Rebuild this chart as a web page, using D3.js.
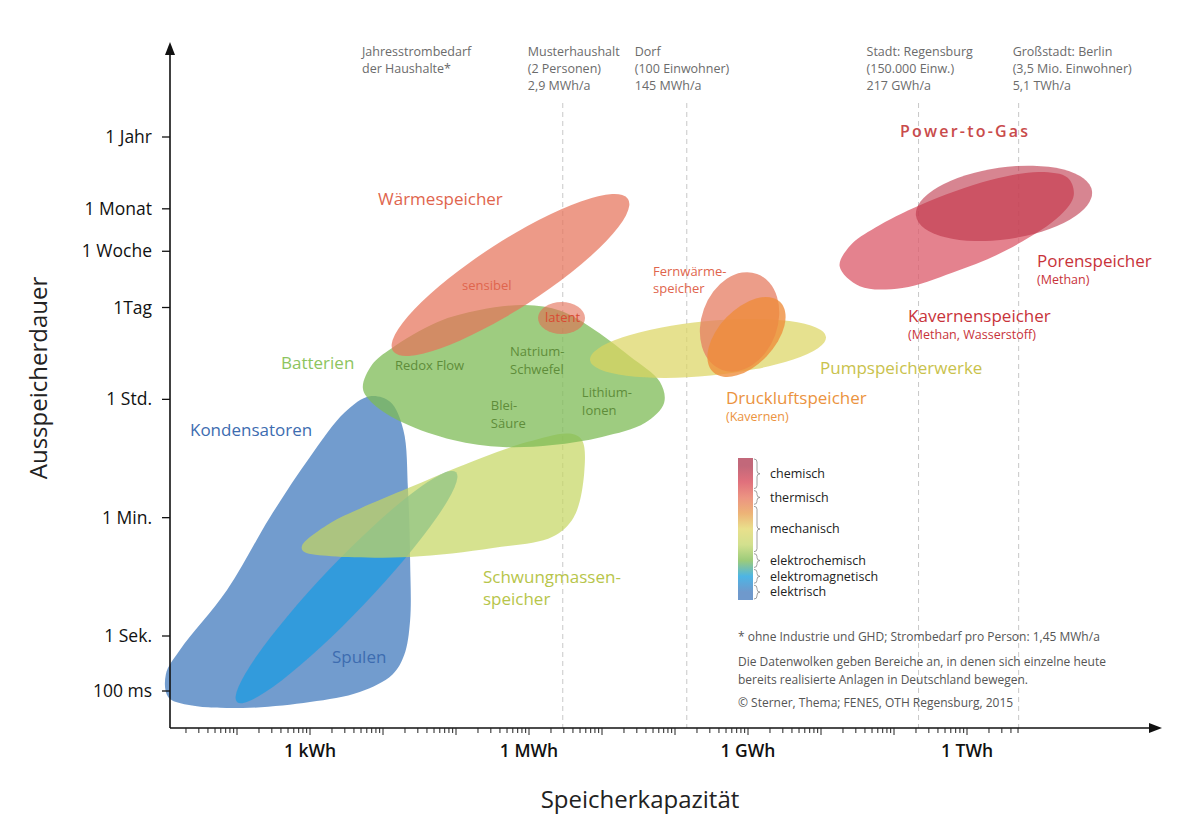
<!DOCTYPE html>
<html>
<head>
<meta charset="utf-8">
<script src="https://cdn.jsdelivr.net/npm/d3@7"></script>
<style>
  body { margin: 0; background: #fff; }
  svg { display: block; }
  text { font-family: 'Open Sans', 'Noto Sans', sans-serif; }
</style>
</head>
<body>
<svg id="chart" width="1200" height="823"></svg>
<script>
// durations in seconds
const YEAR = 31536000
const MONTH = 2628000
const WEEK = 604800
const DAY = 86400
const HOUR = 3600
const MINUTE = 60

const durationTicks = [
  { label: '1 Jahr', s: YEAR },
  { label: '1 Monat', s: MONTH },
  { label: '1 Woche', s: WEEK },
  { label: '1Tag', s: DAY },
  { label: '1 Std.', s: HOUR },
  { label: '1 Min.', s: MINUTE },
  { label: '1 Sek.', s: 1 },
  { label: '100 ms', s: 0.1 },
]

// capacities in Wh
const energyTicks = [
  { label: '1 kWh', wh: 1e3 },
  { label: '1 MWh', wh: 1e6 },
  { label: '1 GWh', wh: 1e9 },
  { label: '1 TWh', wh: 1e12 },
]

const demandHeading = ['Jahresstrombedarf', 'der Haushalte*']
const demandRefs = [
  { lines: ['Musterhaushalt', '(2 Personen)', '2,9 MWh/a'], wh: 2.9e6 },
  { lines: ['Dorf', '(100 Einwohner)', '145 MWh/a'], wh: 1.45e8 },
  { lines: ['Stadt: Regensburg', '(150.000 Einw.)', '217 GWh/a'], wh: 2.17e11 },
  { lines: ['Großstadt: Berlin', '(3,5 Mio. Einwohner)', '5,1 TWh/a'], wh: 5.1e12 },
]

// data clouds: outlines as [Wh, s] or ellipses spanning from -> to with a spread in decades
const clouds = [
  { name: 'Kondensatoren', points: [
    [6.6e3, 4.0e3], [1.25e4, 3.3e3], [1.9e4, 1.25e3], [2.2e4, 156], [2.35e4, 14],
    [2.35e4, 1.7], [1.95e4, 0.45], [1.35e4, 0.2], [4.8e3, 0.096], [1e3, 0.063],
    [120, 0.049], [21, 0.056], [11.4, 0.078], [10.6, 0.2], [16.6, 0.56],
    [73, 4.9], [283, 61], [1e3, 490], [3e3, 2.3e3] ] },
  { name: 'Spulen', from: [100, 0.063], to: [1.0e5, 290], spread: 0.37 },
  { name: 'Schwungmassenspeicher', points: [
    [780, 23], [1.9e3, 50], [4.8e3, 82], [2.3e4, 170], [1.1e5, 350], [9.4e5, 820],
    [3.6e6, 1.1e3], [5.3e6, 880], [5.7e6, 280], [4.1e6, 61], [2.1e6, 31],
    [3.2e5, 21], [2.3e4, 15.4], [1.7e3, 16], [800, 19] ] },
  { name: 'Batterien', points: [
    [5.3e3, 5.3e3], [7.1e3, 1.2e4], [1.3e4, 2.1e4], [5.5e4, 5.2e4], [2.1e5, 7.9e4],
    [8.8e5, 9.4e4], [2.7e6, 7.7e4], [6.9e6, 4.4e4], [2.4e7, 1.6e4], [6.2e7, 6.6e3],
    [7.1e7, 3.2e3], [3.9e7, 1.6e3], [1e7, 980], [2.1e6, 740], [4.4e5, 690],
    [9.1e4, 880], [1.9e4, 1.6e3], [7.3e3, 3.1e3] ] },
  { name: 'sensibel', from: [1.37e4, 1.92e4], to: [2.27e7, 3.7e6], spread: 0.5 },
  { name: 'latent', from: [1.33e6, 6.0e4], to: [5.85e6, 6.0e4], spread: 0.24 },
  { name: 'Pumpspeicherwerke', from: [6.85e6, 1.41e4], to: [1.17e10, 3.12e4], spread: 0.41 },
  { name: 'Fernwärmespeicher', from: [4.41e8, 9.96e3], to: [1.33e9, 2.76e5], spread: 0.57 },
  { name: 'Druckluftspeicher', from: [3.32e8, 9.29e3], to: [2.74e9, 1.05e5], spread: 0.42 },
  { name: 'Kavernenspeicher', points: [
    [1.8e10, 3.6e5], [2.5e10, 7.3e5], [5.5e10, 1.36e6], [2.3e11, 3.0e6], [2.1e12, 7.1e6],
    [1e13, 9.4e6], [2.4e13, 7.7e6], [2.9e13, 4.2e6], [1.9e13, 2.1e6], [3.5e12, 6.3e5],
    [6.4e11, 2.9e5], [1.3e11, 1.7e5], [3.4e10, 1.8e5] ] },
  { name: 'Porenspeicher', from: [2.0e11, 2.06e6], to: [5.15e13, 4.89e6], spread: 0.54 },
]

// text labels anchored in data space [Wh, s] (left / baseline)
const cloudLabels = [
  { lines: ['Wärmespeicher'], at: [8.55e3, 3.0e6], style: 'thermBig' },
  { lines: ['sensibel'], at: [1.21e5, 1.59e5], style: 'thermSmall' },
  { lines: ['latent'], at: [1.66e6, 5.25e4], style: 'latent' },
  { lines: ['Batterien'], at: [401, 1.03e4], style: 'elchemBig' },
  { lines: ['Redox Flow'], at: [1.46e4, 9.96e3], style: 'elchemSmall' },
  { lines: ['Natrium-', 'Schwefel'], at: [5.5e5, 1.62e4], style: 'elchemSmall' },
  { lines: ['Blei-', 'Säure'], at: [3.0e5, 2.5e3], style: 'elchemSmall' },
  { lines: ['Lithium-', 'Ionen'], at: [5.3e6, 3.9e3], style: 'elchemSmall' },
  { lines: ['Kondensatoren'], at: [22.7, 1.01e3], style: 'elBig' },
  { lines: ['Spulen'], at: [2e3, 0.323], style: 'elBig' },
  { lines: ['Schwungmassen-', 'speicher'], at: [2.34e5, 6.26], style: 'flyBig' },
  { lines: ['Fernwärme-', 'speicher'], at: [5e7, 2.58e5], style: 'thermSmall' },
  { lines: ['Pumpspeicherwerke'], at: [9.7e9, 8.67e3], style: 'pumpBig' },
  { lines: ['Druckluftspeicher'], sub: '(Kavernen)', at: [5e8, 3.07e3], style: 'airBig' },
  { lines: ['Power-to-Gas'], at: [1.21e11, YEAR], style: 'p2g' },
  { lines: ['Porenspeicher'], sub: '(Methan)', at: [9.1e12, 3.52e5], style: 'chemBig' },
  { lines: ['Kavernenspeicher'], sub: '(Methan, Wasserstoff)', at: [1.56e11, 5.25e4], style: 'chemBig' },
]

const bandColors = ['#C2687A', '#E0707C', '#EC9482', '#EDB377', '#E9E08C', '#D2E08E', '#9CCB7A', '#4DB5E5', '#6F99CC']
const legendGroups = [
  { label: 'chemisch', bands: 2 },
  { label: 'thermisch', bands: 1 },
  { label: 'mechanisch', bands: 3 },
  { label: 'elektrochemisch', bands: 1 },
  { label: 'elektromagnetisch', bands: 1 },
  { label: 'elektrisch', bands: 1 },
]

const notes = [
  '* ohne Industrie und GHD; Strombedarf pro Person: 1,45 MWh/a',
  'Die Datenwolken geben Bereiche an, in denen sich einzelne heute',
  'bereits realisierte Anlagen in Deutschland bewegen.',
  '© Sterner, Thema; FENES, OTH Regensburg, 2015',
]

// ---- styles ----
const cloudStyle = {
  Kondensatoren: { fill: '#4F83C2', opacity: 0.8 },
  Spulen: { fill: '#1E9BE0', opacity: 0.75 },
  Schwungmassenspeicher: { fill: '#C5D65F', opacity: 0.7 },
  Batterien: { fill: '#7DBB55', opacity: 0.75 },
  sensibel: { fill: '#E6735A', opacity: 0.72 },
  latent: { fill: '#E26A52', opacity: 0.6 },
  Pumpspeicherwerke: { fill: '#DCD460', opacity: 0.7 },
  Fernwärmespeicher: { fill: '#E57C62', opacity: 0.75 },
  Druckluftspeicher: { fill: '#EE8C3A', opacity: 0.78 },
  Kavernenspeicher: { fill: '#DC5F6E', opacity: 0.78 },
  Porenspeicher: { fill: '#BC3448', opacity: 0.6 },
}

const labelStyles = {
  thermBig: { size: 17, color: '#E0654D' },
  thermSmall: { size: 13, color: '#E0654D', lh: 17 },
  latent: { size: 13, color: '#D94A32' },
  elchemBig: { size: 17, color: '#8DC45E' },
  elchemSmall: { size: 13, color: '#5E8C3A', lh: 18 },
  elBig: { size: 17, color: '#3D6CB0' },
  flyBig: { size: 17, color: '#B7C54A', lh: 22 },
  pumpBig: { size: 17, color: '#C9C24C' },
  airBig: { size: 17, color: '#EB9340', lh: 17 },
  p2g: { size: 16, color: '#C94B4B', weight: 600, spacing: 2.2 },
  chemBig: { size: 17, color: '#C8333A', lh: 17 },
}

// ---- layout ----
const margin = { top: 40, left: 170 }
const axisBottom = 688
const axisRight = 992
const axisTop = 2
const refDx = [-35, -52, -52, -6]

const svg = d3.select('#chart')
svg.append('rect').attr('width', 1200).attr('height', 823).attr('fill', '#fff')

const g = svg.append('g').attr('transform', `translate(${margin.left},${margin.top})`)

const x = d3.scaleLog().domain([1e3, 1e12]).range([140, 797])
const y = d3.scaleLog().domain([0.1, 1, YEAR]).range([651, 596, 97])
const pxPerDecade = y(1) - y(10)

// reference demand lines
g.append('g').attr('id', 'refs')
  .selectAll('line')
  .data(demandRefs)
  .join('line')
  .attr('x1', d => x(d.wh)).attr('x2', d => x(d.wh))
  .attr('y1', 63).attr('y2', axisBottom)
  .attr('stroke', '#c8c8c8').attr('stroke-width', 1)
  .attr('stroke-dasharray', '5,4')

const refText = g.append('g').attr('id', 'refText')
  .attr('font-size', 12.5).attr('fill', '#6b6b6b')
refText.append('text')
  .selectAll('tspan').data(demandHeading).join('tspan')
  .attr('x', 192).attr('y', (d, i) => 16 + i * 17).text(d => d)
refText.selectAll('text.ref')
  .data(demandRefs)
  .join('text').attr('class', 'ref')
  .each(function (d, i) {
    d3.select(this).selectAll('tspan').data(d.lines).join('tspan')
      .attr('x', x(d.wh) + refDx[i])
      .attr('y', (t, j) => 16 + j * 17)
      .text(t => t)
  })

// clouds
const line = d3.line()
  .x(d => x(d[0]))
  .y(d => y(d[1]))
  .curve(d3.curveCatmullRomClosed.alpha(0.5))

const cloudLayer = g.append('g').attr('id', 'clouds')
clouds.forEach(c => {
  const st = cloudStyle[c.name]
  if (c.points) {
    cloudLayer.append('path')
      .attr('d', line(c.points))
      .attr('fill', st.fill).attr('fill-opacity', st.opacity)
  } else {
    const x1 = x(c.from[0]), y1 = y(c.from[1])
    const x2 = x(c.to[0]), y2 = y(c.to[1])
    const angle = Math.atan2(y2 - y1, x2 - x1) * 180 / Math.PI
    cloudLayer.append('ellipse')
      .attr('rx', Math.hypot(x2 - x1, y2 - y1) / 2)
      .attr('ry', c.spread * pxPerDecade)
      .attr('transform', `translate(${(x1 + x2) / 2},${(y1 + y2) / 2}) rotate(${angle})`)
      .attr('fill', st.fill).attr('fill-opacity', st.opacity)
  }
})

// cloud labels
const labelLayer = g.append('g').attr('id', 'labels')
cloudLabels.forEach(l => {
  const st = labelStyles[l.style]
  const t = labelLayer.append('text')
    .attr('fill', st.color)
    .attr('font-size', st.size)
    .attr('font-weight', st.weight || 400)
    .attr('letter-spacing', st.spacing || 0)
  const px = x(l.at[0]), py = y(l.at[1])
  l.lines.forEach((s, i) => {
    t.append('tspan').attr('x', px).attr('y', py + i * (st.lh || 18)).text(s)
  })
  if (l.sub) {
    t.append('tspan').attr('x', px).attr('y', py + l.lines.length * st.lh)
      .attr('font-size', 12.5).text(l.sub)
  }
})

// axes
const axes = g.append('g').attr('id', 'axes')
axes.append('line')
  .attr('x1', 0).attr('x2', axisRight - 8).attr('y1', axisBottom).attr('y2', axisBottom)
  .attr('stroke', '#111').attr('stroke-width', 1.6)
axes.append('line')
  .attr('x1', 0).attr('x2', 0).attr('y1', axisBottom).attr('y2', axisTop + 8)
  .attr('stroke', '#111').attr('stroke-width', 1.6)
axes.append('path')
  .attr('d', `M${axisRight},${axisBottom} L${axisRight - 13},${axisBottom - 5} L${axisRight - 13},${axisBottom + 5} Z`)
  .attr('fill', '#111')
axes.append('path')
  .attr('d', `M0,${axisTop} L-5,${axisTop + 13} L5,${axisTop + 13} Z`)
  .attr('fill', '#111')

// y ticks
axes.selectAll('line.yt').data(durationTicks).join('line').attr('class', 'yt')
  .attr('x1', -8).attr('x2', 0).attr('y1', d => y(d.s)).attr('y2', d => y(d.s))
  .attr('stroke', '#111').attr('stroke-width', 1.3)
axes.selectAll('text.yl').data(durationTicks).join('text').attr('class', 'yl')
  .attr('x', -18).attr('y', d => y(d.s)).attr('dy', '0.35em')
  .attr('text-anchor', 'end').attr('font-size', 17.5).attr('fill', '#111')
  .text(d => d.label)

// x ticks (log minor ticks)
const minorTicks = d3.range(1, 13).flatMap(n => d3.range(1, 10).map(k => k * Math.pow(10, n)))
  .filter(v => v >= 20 && v <= 5e12)
axes.selectAll('line.xt').data(minorTicks).join('line').attr('class', 'xt')
  .attr('x1', d => x(d)).attr('x2', d => x(d))
  .attr('y1', axisBottom).attr('y2', d => axisBottom + (Math.log10(d) % 1 === 0 ? 7 : 5))
  .attr('stroke', '#222').attr('stroke-width', 1)
axes.selectAll('text.xl').data(energyTicks).join('text').attr('class', 'xl')
  .attr('x', d => x(d.wh)).attr('y', axisBottom + 29)
  .attr('text-anchor', 'middle').attr('font-size', 17.5).attr('font-weight', 600).attr('fill', '#111')
  .text(d => d.label)

// axis titles
g.append('text')
  .attr('transform', `translate(-123,338) rotate(-90)`)
  .attr('text-anchor', 'middle').attr('font-size', 24).attr('fill', '#222')
  .text('Ausspeicherdauer')
g.append('text')
  .attr('x', 470).attr('y', 768)
  .attr('text-anchor', 'middle').attr('font-size', 24).attr('fill', '#222')
  .text('Speicherkapazität')

// legend
const legendX = 568, legendW = 15
const band = d3.scaleBand().domain(d3.range(bandColors.length)).range([418, 560])
const defs = svg.append('defs')
const grad = defs.append('linearGradient').attr('id', 'legendGrad')
  .attr('x1', 0).attr('x2', 0).attr('y1', 0).attr('y2', 1)
grad.selectAll('stop').data(bandColors).join('stop')
  .attr('offset', (d, i) => (band(i) + band.bandwidth() / 2 - 418) / 142)
  .attr('stop-color', d => d)
const legend = g.append('g').attr('id', 'legend')
legend.append('rect')
  .attr('x', legendX).attr('y', 418).attr('width', legendW).attr('height', 142)
  .attr('fill', 'url(#legendGrad)')

let start = 0
legendGroups.forEach(gr => {
  const top = band(start), bottom = band(start + gr.bands - 1) + band.bandwidth()
  const mid = (top + bottom) / 2
  const x0 = legendX + legendW + 1
  legend.append('path')
    .attr('d', `M${x0},${top + 1} Q${x0 + 3},${top + 1} ${x0 + 3},${top + 4} L${x0 + 3},${mid - 3} Q${x0 + 3},${mid} ${x0 + 6},${mid} Q${x0 + 3},${mid} ${x0 + 3},${mid + 3} L${x0 + 3},${bottom - 4} Q${x0 + 3},${bottom - 1} ${x0},${bottom - 1}`)
    .attr('fill', 'none').attr('stroke', '#888').attr('stroke-width', 0.8)
  legend.append('text')
    .attr('x', x0 + 16).attr('y', mid).attr('dy', '0.35em')
    .attr('font-size', 12.5).attr('fill', '#222')
    .text(gr.label)
  start += gr.bands
})

// notes
const noteY = [601, 626, 644, 667]
g.append('g').attr('id', 'notes')
  .selectAll('text').data(notes).join('text')
  .attr('x', legendX).attr('y', (d, i) => noteY[i])
  .attr('font-size', 12).attr('fill', '#555')
  .text(d => d)
</script>
</body>
</html>
